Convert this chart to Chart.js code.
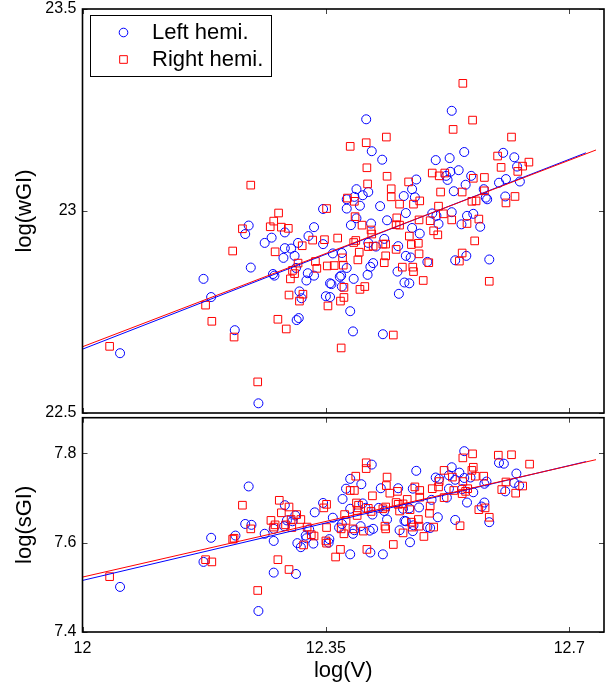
<!DOCTYPE html>
<html>
<head>
<meta charset="utf-8">
<script src="https://cdn.jsdelivr.net/npm/chart.js@4.4.0/dist/chart.umd.min.js"></script>
<style>
  html, body { margin: 0; padding: 0; background: #fff; }
  .wrap { position: relative; width: 612px; height: 687px; overflow: hidden; }
  canvas { position: absolute; left: 0; }
  #topChart { top: 0; }
  #bottomChart { top: 405px; }
</style>
</head>
<body>
<div class="wrap">
  <canvas id="topChart" width="612" height="430"></canvas>
  <canvas id="bottomChart" width="612" height="282"></canvas>
</div>
<script>
// axis ticks
const xTicks = [12, 12.35, 12.7];
const xTickLabels = ['12', '12.35', '12.7'];
const wgiTicks = [22.5, 23, 23.5];
const wgiTickLabels = ['22.5', '23', '23.5'];
const sgiTicks = [7.4, 7.6, 7.8];
const sgiTickLabels = ['7.4', '7.6', '7.8'];
const seriesNames = ['Left hemi.', 'Right hemi.'];

// [log(V), log(wGI)]
const leftWGI = [
  [12.239,22.964],[12.234,22.943],[12.242,22.860],[12.174,22.832],[12.185,22.787],[12.219,22.705],[12.054,22.648],[12.253,22.524],
  [12.408,23.227],[12.416,23.148],[12.431,23.127],[12.480,23.078],[12.394,23.054],[12.411,23.047],[12.474,23.054],[12.403,23.039],[12.462,23.037],[12.391,23.035],[12.380,23.029],[12.478,23.034],
  [12.399,23.013],[12.428,23.012],[12.346,23.005],[12.380,23.006],[12.465,22.995],[12.394,22.982],[12.438,22.977],[12.386,22.965],[12.415,22.969],[12.474,22.958],
  [12.291,22.947],[12.333,22.960],[12.485,22.944],[12.325,22.938],[12.272,22.934],[12.262,22.921],[12.434,22.931],[12.411,22.921],[12.422,22.912],[12.310,22.921],
  [12.346,22.918],[12.291,22.908],[12.300,22.907],[12.454,22.913],[12.373,22.896],[12.360,22.895],[12.289,22.884],[12.305,22.889],[12.465,22.889],[12.472,22.885],
  [12.496,22.874],[12.414,22.862],[12.418,22.871],[12.380,22.859],[12.307,22.859],[12.453,22.850],[12.410,22.842],[12.274,22.844],[12.276,22.840],[12.322,22.828],
  [12.324,22.846],[12.333,22.840],[12.370,22.837],[12.372,22.840],[12.390,22.832],[12.356,22.821],[12.358,22.819],[12.373,22.813],[12.463,22.823],[12.470,22.821],
  [12.312,22.801],[12.315,22.784],[12.350,22.789],[12.356,22.787],[12.455,22.795],[12.385,22.752],[12.308,22.730],[12.311,22.735],[12.389,22.702],[12.432,22.695],
  [12.531,23.248],[12.549,23.146],[12.605,23.144],[12.528,23.131],[12.621,23.133],[12.508,23.126],[12.625,23.110],[12.541,23.101],[12.529,23.097],[12.523,23.087],
  [12.559,23.087],[12.525,23.077],[12.609,23.079],[12.599,23.070],[12.629,23.073],[12.551,23.065],[12.577,23.054],[12.534,23.049],[12.580,23.033],[12.582,23.029],
  [12.608,23.036],[12.531,22.997],[12.503,22.994],[12.509,22.988],[12.553,22.988],[12.562,22.993],[12.512,22.968],[12.545,22.967],[12.572,22.961],[12.552,22.889],
  [12.536,22.878],[12.585,22.880]
];
const rightWGI = [
  [12.242,23.064],[12.230,22.956],[12.216,22.901],[12.177,22.767],[12.186,22.727],[12.218,22.688],[12.039,22.665],[12.252,22.577],
  [12.437,23.183],[12.408,23.169],[12.385,23.160],[12.409,23.107],[12.438,23.086],[12.469,23.072],[12.410,23.067],[12.444,23.055],[12.444,23.035],[12.381,23.032],
  [12.391,23.024],[12.485,23.025],[12.476,23.017],[12.456,23.017],[12.351,23.006],[12.392,22.986],[12.282,22.995],[12.275,22.975],[12.452,22.983],[12.451,22.966],
  [12.456,22.965],[12.402,22.965],[12.484,22.978],[12.270,22.961],[12.286,22.960],[12.296,22.957],[12.470,22.938],[12.415,22.953],[12.416,22.943],[12.348,22.929],
  [12.331,22.928],[12.367,22.933],[12.393,22.927],[12.390,22.922],[12.411,22.912],[12.418,22.913],[12.432,22.918],[12.436,22.918],[12.316,22.914],[12.473,22.917],
  [12.483,22.920],[12.451,22.905],[12.398,22.898],[12.277,22.899],[12.436,22.889],[12.484,22.894],[12.374,22.884],[12.335,22.875],[12.396,22.879],[12.434,22.872],
  [12.310,22.871],[12.362,22.865],[12.352,22.864],[12.375,22.866],[12.337,22.858],[12.302,22.853],[12.460,22.861],[12.475,22.861],[12.476,22.850],[12.299,22.832],
  [12.305,22.845],[12.376,22.811],[12.399,22.806],[12.406,22.813],[12.490,22.828],[12.317,22.794],[12.297,22.792],[12.376,22.786],[12.371,22.777],[12.312,22.777],
  [12.353,22.765],[12.281,22.732],[12.293,22.708],[12.447,22.693],[12.372,22.661],
  [12.547,23.316],[12.561,23.225],[12.533,23.202],[12.617,23.183],[12.597,23.136],[12.642,23.121],[12.633,23.111],[12.602,23.108],[12.626,23.098],[12.503,23.094],
  [12.521,23.094],[12.513,23.087],[12.562,23.081],[12.578,23.083],[12.578,23.050],[12.515,23.047],[12.546,23.047],[12.622,23.036],[12.609,23.020],[12.560,23.024],
  [12.566,23.025],[12.512,23.012],[12.519,22.993],[12.570,22.980],[12.531,22.978],[12.500,22.976],[12.553,22.969],[12.505,22.951],[12.511,22.941],[12.564,22.926],
  [12.546,22.896],[12.542,22.876],[12.498,22.872],[12.585,22.826]
];

// [log(V), log(sGI)]
const leftSGI = [
  [12.239,7.726],[12.234,7.642],[12.243,7.640],[12.185,7.611],[12.220,7.616],[12.174,7.557],[12.054,7.501],[12.253,7.447],
  [12.416,7.775],[12.480,7.761],[12.385,7.743],[12.401,7.731],[12.429,7.722],[12.379,7.721],[12.454,7.722],[12.475,7.721],[12.374,7.698],[12.291,7.684],
  [12.346,7.689],[12.334,7.668],[12.403,7.688],[12.407,7.678],[12.385,7.676],[12.417,7.663],[12.434,7.671],[12.426,7.678],[12.461,7.676],[12.470,7.677],
  [12.484,7.679],[12.306,7.661],[12.294,7.650],[12.302,7.648],[12.275,7.631],[12.262,7.620],[12.290,7.637],[12.321,7.616],[12.326,7.630],[12.360,7.656],
  [12.369,7.634],[12.373,7.642],[12.389,7.620],[12.391,7.628],[12.400,7.637],[12.413,7.627],[12.418,7.631],[12.438,7.652],[12.456,7.628],[12.463,7.649],
  [12.465,7.648],[12.476,7.639],[12.496,7.635],[12.475,7.626],[12.471,7.601],[12.322,7.610],[12.332,7.598],[12.355,7.608],[12.354,7.600],[12.309,7.599],
  [12.314,7.590],[12.275,7.604],[12.385,7.574],[12.414,7.578],[12.432,7.574],[12.275,7.533],[12.307,7.530],
  [12.549,7.805],[12.599,7.779],[12.606,7.777],[12.531,7.769],[12.542,7.757],[12.624,7.755],[12.508,7.746],[12.513,7.743],[12.527,7.751],[12.549,7.745],
  [12.536,7.741],[12.558,7.746],[12.581,7.737],[12.578,7.732],[12.621,7.734],[12.628,7.728],[12.527,7.721],[12.546,7.720],[12.562,7.713],[12.608,7.715],
  [12.524,7.701],[12.502,7.696],[12.553,7.690],[12.578,7.690],[12.574,7.681],[12.511,7.657],[12.585,7.646],[12.536,7.651],[12.500,7.633]
];
const rightSGI = [
  [12.230,7.684],[12.242,7.631],[12.218,7.610],[12.216,7.608],[12.177,7.562],[12.186,7.557],[12.039,7.524],[12.252,7.493],
  [12.408,7.779],[12.408,7.766],[12.393,7.749],[12.438,7.747],[12.437,7.728],[12.385,7.717],[12.391,7.717],[12.453,7.715],[12.478,7.725],[12.485,7.717],
  [12.442,7.711],[12.417,7.705],[12.485,7.702],[12.283,7.695],[12.297,7.680],[12.351,7.686],[12.347,7.678],[12.394,7.689],[12.397,7.684],[12.411,7.677],
  [12.395,7.672],[12.395,7.661],[12.415,7.670],[12.432,7.676],[12.436,7.680],[12.451,7.690],[12.454,7.686],[12.461,7.687],[12.467,7.697],[12.456,7.671],
  [12.471,7.674],[12.286,7.667],[12.308,7.663],[12.300,7.652],[12.314,7.652],[12.271,7.650],[12.275,7.635],[12.277,7.640],[12.292,7.640],[12.301,7.634],
  [12.323,7.635],[12.377,7.663],[12.379,7.650],[12.351,7.634],[12.372,7.631],[12.376,7.620],[12.389,7.631],[12.404,7.626],[12.435,7.637],[12.436,7.631],
  [12.473,7.646],[12.483,7.652],[12.484,7.637],[12.474,7.635],[12.461,7.622],[12.491,7.614],[12.447,7.596],[12.329,7.618],[12.333,7.615],[12.350,7.604],
  [12.351,7.599],[12.318,7.595],[12.371,7.585],[12.364,7.568],[12.409,7.585],[12.281,7.562],[12.297,7.540],
  [12.561,7.799],[12.547,7.790],[12.598,7.796],[12.617,7.797],[12.643,7.776],[12.562,7.769],[12.560,7.762],[12.520,7.762],[12.565,7.749],[12.577,7.749],
  [12.532,7.747],[12.547,7.737],[12.513,7.737],[12.609,7.736],[12.633,7.727],[12.503,7.721],[12.512,7.725],[12.534,7.717],[12.554,7.721],[12.551,7.715],
  [12.546,7.710],[12.603,7.719],[12.623,7.711],[12.520,7.701],[12.570,7.674],[12.579,7.678],[12.500,7.682],[12.499,7.666],[12.585,7.657],[12.543,7.638],
  [12.505,7.635]
];

// fitted lines, end points
const leftFitWGI = [[12, 22.658], [12.724, 23.144]];
const rightFitWGI = [[12, 22.664], [12.7385, 23.151]];
const leftFitSGI = [[12, 7.5155], [12.724, 7.7816]];
const rightFitSGI = [[12, 7.523], [12.7385, 7.786]];

const BLUE = '#0000ff';
const RED = '#ff0000';
const FONT = '"Liberation Sans", Arial, Helvetica, sans-serif';

const toXY = arr => arr.map(p => ({ x: p[0], y: p[1] }));

// matlab-style box with inward ticks on all four sides
const boxPlugin = {
  id: 'box',
  afterDatasetsDraw(chart, args, opts) {
    const { ctx, chartArea: a, scales: { x, y } } = chart;
    ctx.save();
    ctx.strokeStyle = '#444';
    ctx.lineWidth = 1;
    ctx.beginPath();
    opts.xt.forEach(v => {
      const px = Math.round(x.getPixelForValue(v)) + 0.5;
      ctx.moveTo(px, a.bottom); ctx.lineTo(px, a.bottom - 5);
      ctx.moveTo(px, a.top); ctx.lineTo(px, a.top + 5);
    });
    opts.yt.forEach(v => {
      const py = Math.round(y.getPixelForValue(v)) + 0.5;
      ctx.moveTo(a.left, py); ctx.lineTo(a.left + 5, py);
      ctx.moveTo(a.right, py); ctx.lineTo(a.right - 5, py);
    });
    ctx.stroke();
    ctx.strokeStyle = '#000';
    ctx.lineWidth = 1.6;
    ctx.strokeRect(a.left, a.top, a.right - a.left, a.bottom - a.top);
    ctx.restore();
  }
};

// boxed legend in the upper-left corner, markers drawn with chart.js' own point routine
const boxLegend = {
  id: 'boxLegend',
  afterDraw(chart, args, opts) {
    if (!opts.show) return;
    const ctx = chart.ctx;
    const drawPoint = Chart.helpers.drawPoint;
    ctx.save();
    ctx.fillStyle = '#fff';
    ctx.fillRect(90, 15, 181, 61);
    ctx.strokeStyle = '#000';
    ctx.lineWidth = 1;
    ctx.strokeRect(90.5, 15.5, 181, 61);

    ctx.fillStyle = 'rgba(0,0,0,0)';
    ctx.lineWidth = 1;
    ctx.strokeStyle = BLUE;
    drawPoint(ctx, { pointStyle: 'circle', radius: 4.3, borderWidth: 1, rotation: 0 }, 123.5, 32.5);
    ctx.strokeStyle = RED;
    drawPoint(ctx, { pointStyle: 'rect', radius: 5.4, borderWidth: 1, rotation: 0 }, 123.5, 59.5);

    ctx.fillStyle = '#000';
    ctx.font = '22px ' + FONT;
    ctx.textBaseline = 'middle';
    ctx.textAlign = 'left';
    ctx.fillText(seriesNames[0], 152, 33);
    ctx.fillText(seriesNames[1], 152, 60);
    ctx.restore();
  }
};

function makeDatasets(left, right, leftFit, rightFit) {
  return [
    { type: 'line', data: toXY(rightFit), borderColor: RED, borderWidth: 1, pointRadius: 0, fill: false },
    { type: 'line', data: toXY(leftFit), borderColor: BLUE, borderWidth: 1, pointRadius: 0, fill: false },
    { label: seriesNames[1], data: toXY(right), pointStyle: 'rect', pointRadius: 5.4,
      borderColor: RED, backgroundColor: 'rgba(0,0,0,0)', borderWidth: 1 },
    { label: seriesNames[0], data: toXY(left), pointStyle: 'circle', pointRadius: 4.5,
      borderColor: BLUE, backgroundColor: 'rgba(0,0,0,0)', borderWidth: 1 }
  ];
}

function makeChart(id, cfg) {
  return new Chart(document.getElementById(id), {
    type: 'scatter',
    data: { datasets: makeDatasets(cfg.left, cfg.right, cfg.leftFit, cfg.rightFit) },
    options: {
      responsive: false,
      animation: false,
      devicePixelRatio: 1,
      events: [],
      layout: { padding: { top: cfg.padTop, right: 8, bottom: 0, left: 0 } },
      plugins: {
        legend: { display: false },
        tooltip: { enabled: false },
        box: { xt: xTicks, yt: cfg.yTicks },
        boxLegend: { show: cfg.legend }
      },
      scales: {
        x: {
          type: 'linear', min: 12, max: 12.75,
          grid: { display: false, drawTicks: false },
          border: { display: false },
          afterBuildTicks: s => { s.ticks = xTicks.map(v => ({ value: v })); },
          afterFit: s => { s.height = cfg.xHeight; s.paddingLeft = 0; s.paddingRight = 0; },
          ticks: {
            display: cfg.showX, padding: 7, color: '#000', maxRotation: 0,
            font: { family: FONT, size: 16 },
            callback: (v, i) => xTickLabels[i]
          },
          title: {
            display: cfg.showX, text: 'log(V)', color: '#000',
            font: { family: FONT, size: 22 }, padding: { top: 0, bottom: 3 }
          }
        },
        y: {
          type: 'linear', min: cfg.yMin, max: cfg.yMax,
          grid: { display: false, drawTicks: false },
          border: { display: false },
          afterBuildTicks: s => { s.ticks = cfg.yTicks.map(v => ({ value: v })); },
          // fixed axis width, no extra room for overhanging labels
          afterFit: s => { s.width = 82.5; s.paddingTop = 0; s.paddingBottom = 0; },
          ticks: {
            padding: 6, color: '#000',
            font: { family: FONT, size: 16 },
            callback: (v, i) => cfg.yLabels[i]
          },
          title: {
            display: true, text: cfg.yTitle, color: '#000',
            font: { family: FONT, size: 22 }, padding: { top: 12, bottom: 0 }
          }
        }
      }
    },
    plugins: [boxPlugin, boxLegend]
  });
}

makeChart('topChart', {
  left: leftWGI, right: rightWGI, leftFit: leftFitWGI, rightFit: rightFitWGI,
  yMin: 22.5, yMax: 23.5, yTicks: wgiTicks, yLabels: wgiTickLabels, yTitle: 'log(wGI)',
  padTop: 9, xHeight: 17, showX: false, legend: true
});

makeChart('bottomChart', {
  left: leftSGI, right: rightSGI, leftFit: leftFitSGI, rightFit: rightFitSGI,
  yMin: 7.4, yMax: 7.88, yTicks: sgiTicks, yLabels: sgiTickLabels, yTitle: 'log(sGI)',
  padTop: 12.7, xHeight: 55, showX: true, legend: false
});
</script>
</body>
</html>
